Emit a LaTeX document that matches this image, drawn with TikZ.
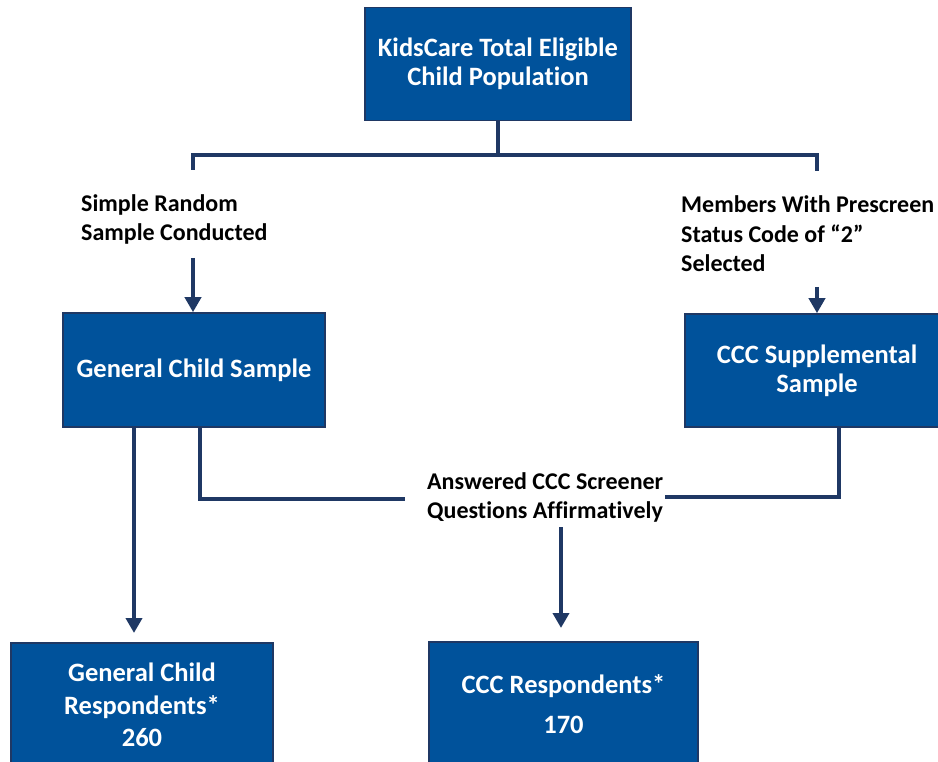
\documentclass[tikz,border=0pt]{standalone}
\usepackage{fontspec}
\setmainfont{Carlito}[Ligatures=NoCommon]
\usetikzlibrary{arrows.meta}
\definecolor{boxfill}{RGB}{0,82,155}
\definecolor{navy}{RGB}{31,56,100}
\tikzset{
  box/.style={draw=navy, line width=1.6pt, fill=boxfill, text=white, font=\fontsize{26.5}{29}\selectfont\bfseries, align=center, inner sep=0pt},
  lbl/.style={text=black, font=\fontsize{24}{29.5}\selectfont\bfseries, align=left, inner sep=0pt, anchor=west},
  conn/.style={draw=navy, line width=4pt},
  arr/.style={conn, -{Triangle[width=16pt,length=15pt]}},
}
\begin{document}
\begin{tikzpicture}[x=1pt,y=-1pt]
\useasboundingbox (0,0) rectangle (938,762);
\clip (0,0) rectangle (938,762);
% boxes
\node[box, minimum width=266pt, minimum height=113pt] (top) at (498,64) {KidsCare Total Eligible\\Child Population};
\node[box, minimum width=262pt, minimum height=114pt] (gcs) at (194,370) {General Child Sample};
\node[box, minimum width=264pt, minimum height=113pt] (ccs) at (817,370.5) {CCC Supplemental\\Sample};
\node[box, minimum width=262pt, minimum height=124pt, font=\fontsize{26.5}{32.5}\selectfont\bfseries] (gcr) at (142,705) {General Child\\Respondents*\\260};
\node[box, minimum width=269pt, minimum height=124pt] (ccr) at (563.5,704) {CCC Respondents*\\[11pt]170};
% labels
\node[lbl] (l1) at (81,219.5) {Simple Random\\Sample Conducted};
\node[lbl] (l2) at (681,234) {Members With Prescreen\\Status Code of “2”\\Selected};
\node[lbl] (l3) at (427,497.5) {Answered CCC Screener\\Questions Affirmatively};
% coordinates
\coordinate (j) at (498,155);
\coordinate (jl) at (193,155);
\coordinate (jr) at (817,155);
\coordinate (jl2) at (193,170);
\coordinate (jr2) at (817,171);
\coordinate (a1s) at (193,258);
\coordinate (a2s) at (817,287);
\coordinate (gb1) at (134,427);
\coordinate (gb1e) at (134,633);
\coordinate (gb2) at (200,427);
\coordinate (gm) at (200,499);
\coordinate (gme) at (405,499);
\coordinate (cb) at (839,427);
\coordinate (cm) at (839,497);
\coordinate (cme) at (665,497);
\coordinate (a3s) at (561,527);
\coordinate (a3e) at (561,628);
% connectors
\draw[conn] (top.south) -- (j);
\draw[conn] (jl2) -- (jl) -- (jr) -- (jr2);
\draw[arr] (a1s) -- (a1s |- gcs.north);
\draw[arr] (a2s) -- (ccs.north);
\draw[arr] (gb1) -- (gb1e);
\draw[conn] (gb2) -- (gm) -- (gme);
\draw[conn] (cb) -- (cm) -- (cme);
\draw[arr] (a3s) -- (a3e);
\end{tikzpicture}
\end{document}
